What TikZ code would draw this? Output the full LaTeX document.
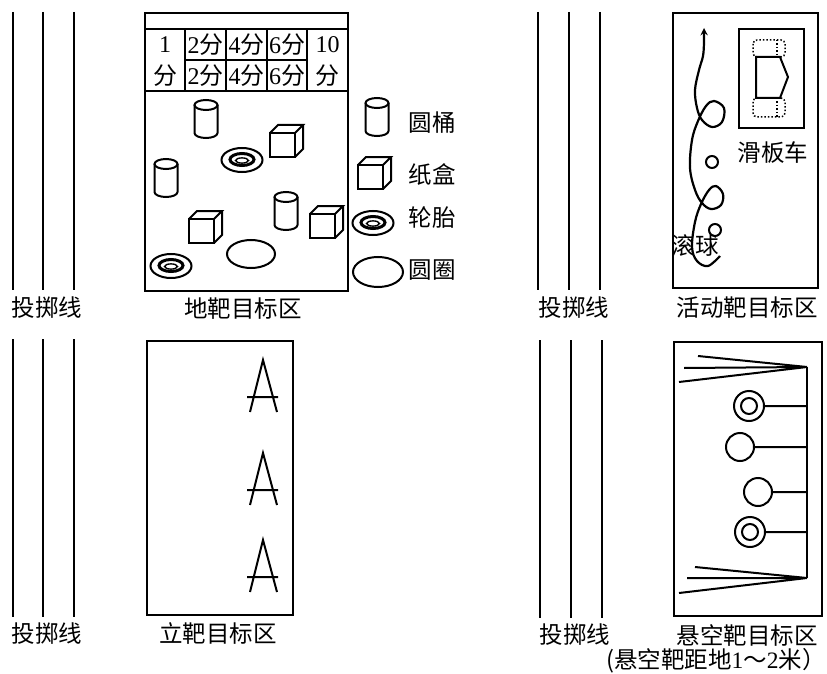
\documentclass[tikz,border=0pt]{standalone}
\usepackage{fontspec}
\setmainfont{Liberation Serif}
\newfontfamily\cjk{Noto Sans CJK SC}
\begin{document}
\begin{tikzpicture}[x=1pt, y=-1pt, line width=2pt, >=stealth,
    every node/.style={inner sep=0pt, font=\fontsize{23}{26}\selectfont},
    biao/.style={font=\cjk\fontsize{23.5}{26}\selectfont},
    ge/.style={font=\fontsize{24}{26}\selectfont},
    kuang/.style={line width=2pt},
    tong/.pic={
      \draw (-11.5,-14) -- (-11.5,14) arc[start angle=180, end angle=0, x radius=11.5, y radius=5] -- (11.5,-14);
      \draw (0,-14) ellipse[x radius=11.5, y radius=5];
    },
    he/.pic={
      \draw (0,8) rectangle (25,32);
      \draw (0,8) -- (8,0) -- (33,0) -- (25,8) (33,0) -- (33,24) -- (25,32);
    },
    tai/.pic={
      \draw (0,0) ellipse[x radius=20.5, y radius=12];
      \draw[line width=3pt] (0,-0.5) ellipse[x radius=12, y radius=6];
      \draw[line width=1.4pt] (0,0.5) ellipse[x radius=6.5, y radius=2.6];
    }]
  \useasboundingbox (0,0) rectangle (827,674);

  % 投掷线（四处）
  \draw (13,12) -- (13,290) (43,12) -- (43,290) (74,12) -- (74,290);
  \node[biao] (tz1) at (47,308) {投掷线};
  \draw (538,12) -- (538,290) (569,12) -- (569,290) (600,12) -- (600,290);
  \node[biao] (tz2) at (574,308) {投掷线};
  \draw (13,339) -- (13,617) (43,339) -- (43,617) (74,339) -- (74,617);
  \node[biao] (tz3) at (47,634) {投掷线};
  \draw (540,340) -- (540,618) (602,340) -- (602,618);
  \draw[line width=2.8pt] (571,340) -- (571,618);
  \node[biao] (tz4) at (575,635) {投掷线};

  % 地靶目标区与分值表
  \draw[kuang] (145,13) rectangle (348,291);
  \draw[kuang] (145,29) -- (348,29) (145,91) -- (348,91);
  \draw[kuang] (185,29) -- (185,91) (226,29) -- (226,91) (267,29) -- (267,91) (307,29) -- (307,91);
  \draw[kuang] (185,60) -- (307,60);
  \node[ge] (f1a) at (165,45) {1};
  \node[ge] (f1b) at (165,76) {\cjk 分};
  \node[ge] (f2a) at (205.5,45) {2{\cjk 分}};
  \node[ge] (f2b) at (205.5,76) {2{\cjk 分}};
  \node[ge] (f4a) at (246.5,45) {4{\cjk 分}};
  \node[ge] (f4b) at (246.5,76) {4{\cjk 分}};
  \node[ge] (f6a) at (287,45) {6{\cjk 分}};
  \node[ge] (f6b) at (287,76) {6{\cjk 分}};
  \node[ge] (f10a) at (327.5,45) {10};
  \node[ge] (f10b) at (327.5,76) {\cjk 分};
  \node[biao] (dibao) at (243,309) {地靶目标区};

  % 地面上的靶子
  \pic at (206,119) {tong};
  \pic at (166,178) {tong};
  \pic at (286,211) {tong};
  \pic at (270,125) {he};
  \pic at (189,211) {he};
  \pic at (310,206) {he};
  \pic at (242,160) {tai};
  \pic at (171,266) {tai};
  \draw (251,254) ellipse[x radius=24, y radius=14];

  % 图例
  \pic at (377,117) {tong};
  \pic at (358,157) {he};
  \pic at (373,223) {tai};
  \draw (378,272) ellipse[x radius=25, y radius=15];
  \node[biao] (tl1) at (432,123) {圆桶};
  \node[biao] (tl2) at (432,175) {纸盒};
  \node[biao] (tl3) at (432,218) {轮胎};
  \node[biao] (tl4) at (432,270) {圆圈};

  % 活动靶目标区
  \draw[kuang] (673,13) rectangle (818,288);
  \draw[kuang] (739,29) rectangle (804,128);
  \draw (756,57) -- (780,57) -- (788,77) -- (780,98) -- (756,98) -- cycle;
  \draw[dotted, line width=1.5pt, rounded corners=4pt] (753,40) rectangle (785,57);
  \draw[dotted, line width=1.5pt, rounded corners=4pt] (753,98) rectangle (785,117);
  \draw[dotted, line width=1.5pt] (777,40) -- (777,57) (777,98) -- (777,117);
  \node[biao] (huaban) at (773,153) {滑板车};
  \draw (712,162) circle[radius=6];
  \draw (715,230) circle[radius=6];
  % 滚球路线
  \draw[->, line width=2.2pt] plot[smooth, tension=0.6] coordinates {
    (720,256) (708,266) (697,261) (692,247) (695,222) (701,204) (709,190)
    (716,186) (723,194) (721,205) (711,209) (702,203) (695,190) (690,168)
    (692,140) (698,121) (706,106) (714,101) (724,108) (722,122) (712,127)
    (702,120) (697,108) (695,90) (699,70) (703,56) (704,42) (704,28)};
  \node[biao] (gunqiu) at (695,246) {滚球};
  \node[biao] (huodong) at (747,308) {活动靶目标区};

  % 立靶目标区
  \draw[kuang] (147,341) rectangle (293,615);
  \draw (250,412) -- (263,360) -- (277,412) (247,397) -- (278,397);
  \draw (250,505) -- (263,453) -- (277,505) (247,490) -- (278,490);
  \draw (250,592) -- (263,540) -- (277,592) (247,577) -- (278,577);
  \node[biao] (libao) at (218,634) {立靶目标区};

  % 悬空靶目标区
  \draw[kuang] (674,342) rectangle (822,616);
  \draw (807,367) -- (807,578);
  \draw (698,356) -- (807,367) -- (684,368) (679,382) -- (807,367);
  \draw (695,567) -- (807,578) -- (687,578) (679,593) -- (807,578);
  \draw (749,406) circle[radius=15] (749,406) circle[radius=8] (764,406) -- (807,406);
  \draw (740,447) circle[radius=14] (754,447) -- (807,447);
  \draw (758,492) circle[radius=14] (772,492) -- (807,492);
  \draw (750,532) circle[radius=15] (750,532) circle[radius=8] (765,532) -- (807,532);
  \node[biao] (xuankong) at (747,636) {悬空靶目标区};
  \node[biao] (juli) at (716,661) {(悬空靶距地{\rmfamily 1}～{\rmfamily 2}米）};
\end{tikzpicture}
\end{document}
